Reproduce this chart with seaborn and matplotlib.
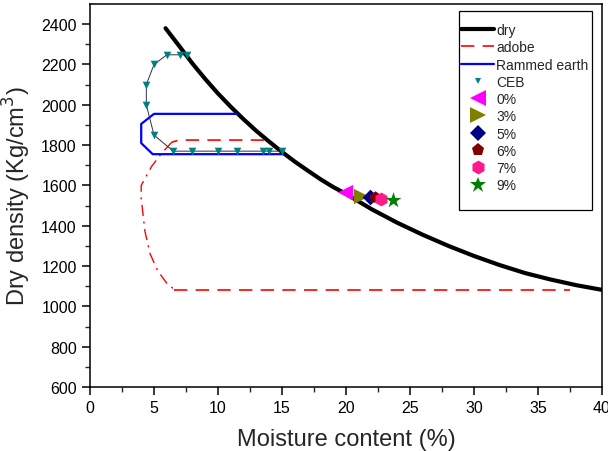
import numpy as np
import pandas as pd
import matplotlib
matplotlib.use("Agg")
import matplotlib.pyplot as plt
from matplotlib.lines import Line2D
from matplotlib.patches import Rectangle
import seaborn as sns

# ---- data ----
dry_x = [5.9, 7, 8, 9, 10, 11, 12, 13, 14, 15, 16, 17, 18, 19, 20, 22, 24, 26, 28, 30, 32, 34, 36, 38, 40]
dry_y = [2380, 2289, 2205, 2128, 2056, 1990, 1928, 1870, 1817, 1766, 1718, 1674, 1631, 1592, 1558,
         1482, 1415, 1355, 1300, 1250, 1205, 1165, 1133, 1105, 1082]

adobe_x = [13.6, 7.0, 6.4, 5.6, 4.8, 4.0, 4.0, 4.3, 4.7, 5.3, 6.0, 6.6, 37.5]
adobe_y = [1825, 1825, 1815, 1760, 1693, 1600, 1535, 1370, 1260, 1175, 1115, 1083, 1083]

rammed_x = [11.5, 5.0, 4.0, 4.0, 4.9, 15.1]
rammed_y = [1955, 1955, 1905, 1810, 1755, 1755]

ceb_x = [7.6, 7.0, 6.0, 5.0, 4.4, 4.4, 5.0, 6.5, 8.0, 10.0, 11.5, 13.5, 14.0, 15.0]
ceb_y = [2248, 2248, 2248, 2200, 2100, 2000, 1850, 1770, 1770, 1770, 1770, 1770, 1770, 1770]

pct_labels = ["0%", "3%", "5%", "6%", "7%", "9%"]
pct_x = [19.9, 21.2, 21.85, 22.25, 22.7, 23.65]
pct_y = [1565, 1550, 1545, 1543, 1535, 1528]

x_ticks = [0, 5, 10, 15, 20, 25, 30, 35, 40]
y_ticks = [600, 800, 1000, 1200, 1400, 1600, 1800, 2000, 2200, 2400]

# ---- styles ----
pct_markers = ["<", ">", "D", "p", "h", "*"]
pct_colors = ["#ff00ff", "#808000", "#000080", "#800000", "#ff1a8c", "#008000"]
pct_sizes = [11, 11, 8, 9, 10, 12]
leg_sizes = [11, 11, 8.5, 9.5, 10, 12]

sns.set_theme(style="ticks")
plt.rcParams["font.family"] = ["Liberation Sans", "DejaVu Sans"]
plt.rcParams["axes.linewidth"] = 1.1

W, H = 608, 452
fig = plt.figure(figsize=(W / 100, H / 100), dpi=100)
ax = fig.add_axes([90 / W, 1 - 388 / H, 512 / W, 383 / H])

# dry curve
sns.lineplot(x=dry_x, y=dry_y, ax=ax, color="black", lw=3, sort=False, estimator=None)

# adobe: top dashed, left curve dash-dot, bottom dashed
ax_dash = (8, 5)
l = sns.lineplot(x=adobe_x[0:3], y=adobe_y[0:3], ax=ax, color="red", lw=1.2, sort=False,
                 estimator=None).lines[-1]
l.set_dashes(ax_dash)
l = sns.lineplot(x=adobe_x[2:12], y=adobe_y[2:12], ax=ax, color="red", lw=1.0, sort=False,
                 estimator=None).lines[-1]
l.set_dashes((8, 4, 1.5, 4))
l = sns.lineplot(x=adobe_x[11:], y=adobe_y[11:], ax=ax, color="red", lw=1.2, sort=False,
                 estimator=None).lines[-1]
l.set_dashes(ax_dash)

# rammed earth
sns.lineplot(x=rammed_x, y=rammed_y, ax=ax, color="#0000ff", lw=1.6, sort=False, estimator=None)

# CEB
sns.lineplot(x=ceb_x, y=ceb_y, ax=ax, color="#333333", lw=0.7, sort=False, estimator=None)
sns.scatterplot(x=ceb_x, y=ceb_y, ax=ax, marker="v", color="#008080", s=30, linewidth=0, zorder=5)

# percentage points
for lab, x, y, m, c, s in zip(pct_labels, pct_x, pct_y, pct_markers, pct_colors, pct_sizes):
    sns.scatterplot(x=[x], y=[y], ax=ax, marker=m, color=c, s=s ** 2, linewidth=0, zorder=6)

ax.set_xlim(0, 40)
ax.set_ylim(600, 2500)
ax.set_xticks(x_ticks)
ax.set_yticks(y_ticks)
ax.set_xticks(np.arange(0, 40.1, 2.5), minor=True)
ax.set_yticks(np.arange(600, 2500, 100), minor=True)
ax.tick_params(axis="both", which="major", direction="out", length=6, width=1.1,
               labelsize=11.5, colors="black", top=False, right=False)
ax.tick_params(axis="both", which="minor", direction="out", length=3.5, width=1.0,
               top=False, right=False)
for sp in ax.spines.values():
    sp.set_visible(True)
    sp.set_color("black")
    sp.set_linewidth(1.1)

ax.set_xlabel("Moisture content (%)", fontsize=17, labelpad=9)
ax.set_ylabel("Dry density (Kg/cm$^3$)", fontsize=17, labelpad=6)

# legend frame drawn as a separate box (reference box: x 459-592, y 12-211 px)
ax.add_patch(Rectangle((459 / W, 1 - 211 / H), 133 / W, 199 / H, transform=fig.transFigure,
                       facecolor="white", edgecolor="black", lw=0.9, zorder=9, clip_on=False))

handles = [
    Line2D([], [], color="black", lw=3),
    Line2D([], [], color="red", lw=1.2, dashes=ax_dash),
    Line2D([], [], color="#0000ff", lw=1.6),
    Line2D([], [], color="#008080", marker="v", ls="none", ms=4.5, mew=0),
]
for m, c, s in zip(pct_markers, pct_colors, leg_sizes):
    handles.append(Line2D([], [], color=c, marker=m, ls="none", ms=s, mew=0))
labels = ["dry", "adobe", "Rammed earth", "CEB"] + pct_labels
leg = fig.legend(handles, labels, loc="upper left", bbox_to_anchor=(461 / W, 1 - 24 / H),
                 borderaxespad=0, borderpad=0, frameon=False, fontsize=10,
                 handlelength=2.4, handletextpad=0.15, labelspacing=0.235)
leg.set_zorder(10)

fig.savefig("out.png", dpi=100)
